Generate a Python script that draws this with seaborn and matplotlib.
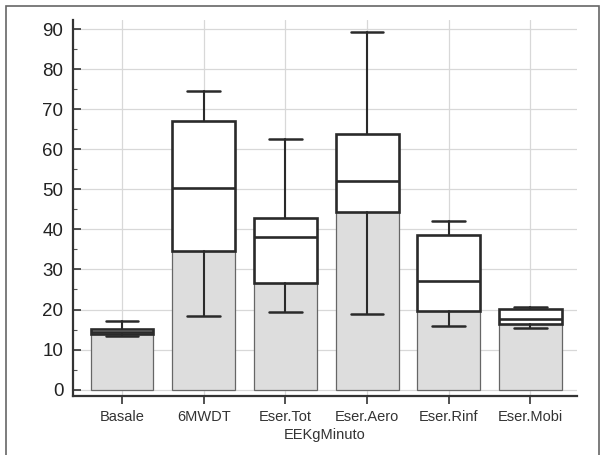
import matplotlib
matplotlib.use("Agg")
import matplotlib.pyplot as plt
from matplotlib.patches import Rectangle
from matplotlib.ticker import MultipleLocator
import seaborn as sns
import pandas as pd

categories = ["Basale", "6MWDT", "Eser.Tot", "Eser.Aero", "Eser.Rinf", "Eser.Mobi"]
whisker_low = [13.3, 18.5, 19.4, 18.9, 15.8, 15.4]
q1 = [13.8, 34.5, 26.5, 44.4, 19.7, 16.4]
median = [14.5, 50.3, 38.1, 52.2, 27.2, 17.7]
q3 = [15.1, 67.0, 42.8, 63.9, 38.7, 20.1]
whisker_high = [17.1, 74.6, 62.6, 89.4, 42.0, 20.7]
x_title = "EEKgMinuto"
y_ticks = [0, 10, 20, 30, 40, 50, 60, 70, 80, 90]

sns.set_theme(style="white")
plt.rcParams["font.family"] = ["Liberation Sans", "DejaVu Sans"]

fig = plt.figure(figsize=(6.05, 4.55), dpi=100)
ax = fig.add_axes([73 / 605, 1 - 396 / 455, (577 - 73) / 605, (396 - 20) / 455])

df = pd.DataFrame({"cat": categories, "q1": q1})
sns.barplot(data=df, x="cat", y="q1", color="#dddddd", saturation=1,
            width=0.77, edgecolor="#666666", linewidth=0.9, ax=ax, zorder=2)

stats = []
for i in range(len(categories)):
    stats.append(dict(med=median[i], q1=q1[i], q3=q3[i],
                      whislo=whisker_low[i], whishi=whisker_high[i], fliers=[]))
ax.bxp(stats, positions=list(range(len(categories))), widths=0.77,
       capwidths=0.4, showfliers=False, patch_artist=True,
       boxprops=dict(facecolor="white", edgecolor="#2a2a2a", linewidth=1.9),
       medianprops=dict(color="#2a2a2a", linewidth=1.9),
       whiskerprops=dict(color="#2a2a2a", linewidth=1.5),
       capprops=dict(color="#2a2a2a", linewidth=1.8),
       manage_ticks=False, zorder=3)

ax.set_xlim(-0.6, 5.57)
ax.set_ylim(-1.6, 92.3)
ax.set_yticks(y_ticks)
ax.yaxis.set_minor_locator(MultipleLocator(5))
ax.set_xticks(range(len(categories)))
ax.set_xticklabels(categories)

ax.grid(True, which="major", color="#d8d8d8", linewidth=0.9, zorder=0)
ax.set_axisbelow(True)
for s in ["top", "right"]:
    ax.spines[s].set_visible(False)
for s in ["left", "bottom"]:
    ax.spines[s].set_visible(True)
    ax.spines[s].set_color("#333333")
    ax.spines[s].set_linewidth(1.6)

ax.tick_params(axis="y", which="major", direction="in", length=6, width=1.2,
               colors="#333333", labelsize=13.5, pad=7, left=True)
ax.tick_params(axis="y", which="minor", direction="in", length=3, width=0.8,
               colors="#555555", left=True)
ax.tick_params(axis="x", which="major", direction="out", length=6, width=1.2,
               colors="#333333", labelsize=10.5, pad=4, bottom=True)
for lbl in ax.get_yticklabels():
    lbl.set_color("#222222")
for lbl in ax.get_xticklabels():
    lbl.set_color("#333333")

ax.set_xlabel(x_title, fontsize=10.5, color="#333333", labelpad=3)
ax.set_ylabel("")

fig.patches.append(Rectangle((6 / 605, -0.01), (599 - 6) / 605, 1 - 6 / 455 + 0.01,
                             transform=fig.transFigure, fill=False,
                             edgecolor="#666666", linewidth=1.2))

fig.savefig("out.png", dpi=100)
